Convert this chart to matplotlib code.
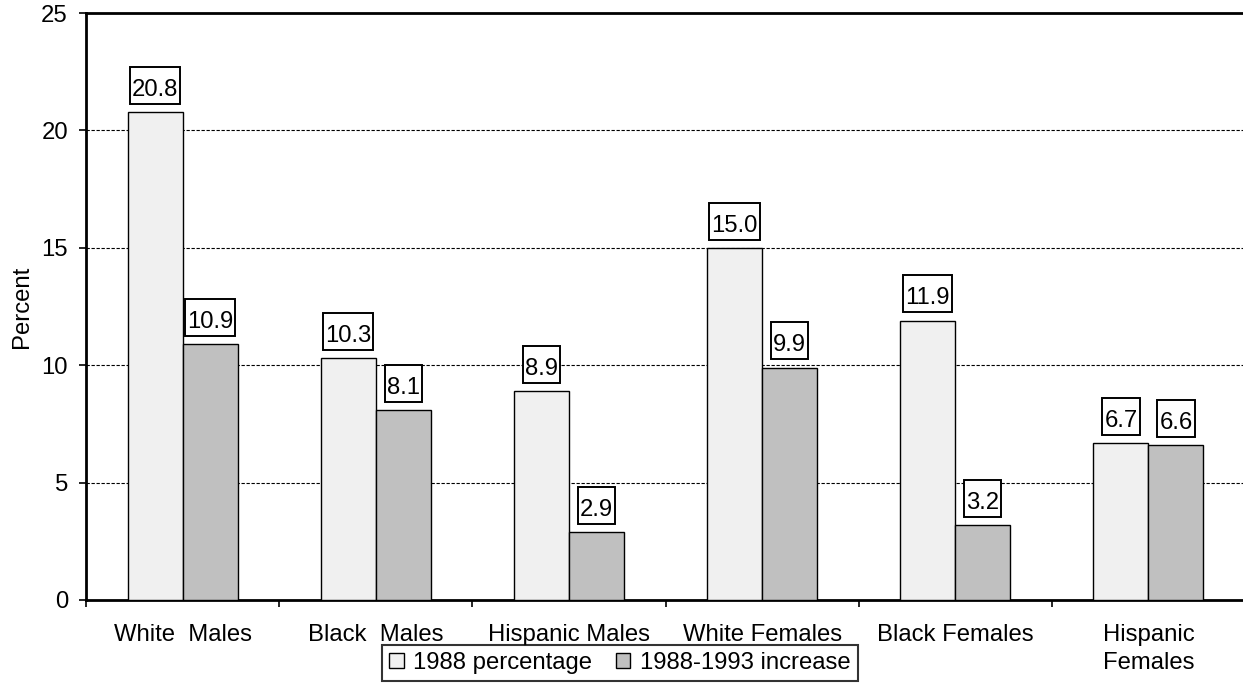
import matplotlib
matplotlib.use("Agg")
import matplotlib.pyplot as plt
from matplotlib.patches import Patch
from matplotlib.path import Path
import numpy as np

plt.rcParams['font.family'] = ['Liberation Sans', 'DejaVu Sans']

categories = ["White  Males", "Black  Males", "Hispanic Males", "White Females",
              "Black Females", "Hispanic\nFemales"]
pct_1988 = [20.8, 10.3, 8.9, 15.0, 11.9, 6.7]
inc_88_93 = [10.9, 8.1, 2.9, 9.9, 3.2, 6.6]
series_names = ["1988 percentage", "1988-1993 increase"]
colors = ["#F0F0F0", "#C0C0C0"]
yticks = [0, 5, 10, 15, 20, 25]

W, H = 1243, 683
fig = plt.figure(figsize=(W / 100, H / 100), dpi=100)
ax = fig.add_axes([86 / W, 83 / H, (1245 - 86) / W, 587 / H])

x = np.arange(len(categories))
bw = 0.285
fs = 17.2


def label_box(x0, y0, width, height, mutation_size):
    # asymmetric padding (pixels): left/right, bottom, top
    px, pb, pt = 2.0, 3.0, 12.0
    xa, xb = x0 - px, x0 + width + px
    ya, yb = y0 - pb, y0 + height + pt
    return Path([(xa, ya), (xb, ya), (xb, yb), (xa, yb), (xa, ya)],
                [Path.MOVETO, Path.LINETO, Path.LINETO, Path.LINETO, Path.CLOSEPOLY])


ax.set_axisbelow(True)
for i, (vals, col) in enumerate(zip([pct_1988, inc_88_93], colors)):
    xs = x + (i - 0.5) * bw
    ax.bar(xs, vals, width=bw, color=col, edgecolor='black', linewidth=1.0, zorder=3)
    for xi, v in zip(xs, vals):
        ax.annotate(f"{v:.1f}", xy=(xi, v), xytext=(0, 8), textcoords='offset points',
                    ha='center', va='bottom', fontsize=fs, zorder=5,
                    bbox=dict(boxstyle=label_box, facecolor='white',
                              edgecolor='black', linewidth=1.4))

ax.set_xlim(-0.5, len(categories) - 0.5)
ax.set_ylim(0, 25)
ax.set_yticks(yticks)
ax.set_yticklabels([str(t) for t in yticks], fontsize=fs)
ax.tick_params(axis='y', length=5, width=1.2, pad=8)

ax.set_xticks(np.arange(len(categories) + 1) - 0.5)
ax.set_xticklabels([])
ax.tick_params(axis='x', which='major', length=5, width=1.2, direction='out')
ax.set_xticks(x, minor=True)
ax.set_xticklabels(categories, minor=True, fontsize=fs, linespacing=1.35)
ax.tick_params(axis='x', which='minor', length=0, pad=17)

for y in yticks[1:-1]:
    ax.axhline(y, color='black', linewidth=0.8, linestyle=(0, (3, 1.5)), zorder=1)

for s in ['left', 'top', 'bottom']:
    ax.spines[s].set_linewidth(2)
ax.spines['right'].set_visible(False)

ax.set_ylabel("Percent", fontsize=fs, labelpad=6)

handles = [Patch(facecolor=c, edgecolor='black', linewidth=1.0) for c in colors]
leg = fig.legend(handles, series_names, loc='lower center', bbox_to_anchor=(620 / W, 2 / H),
                 ncol=2, fontsize=fs, frameon=True, fancybox=False, edgecolor='black',
                 handlelength=0.6, handleheight=0.6, handletextpad=0.4, columnspacing=1.0,
                 borderpad=0.3, borderaxespad=0)
leg.get_frame().set_linewidth(1.5)

fig.savefig("out.png", dpi=100)
